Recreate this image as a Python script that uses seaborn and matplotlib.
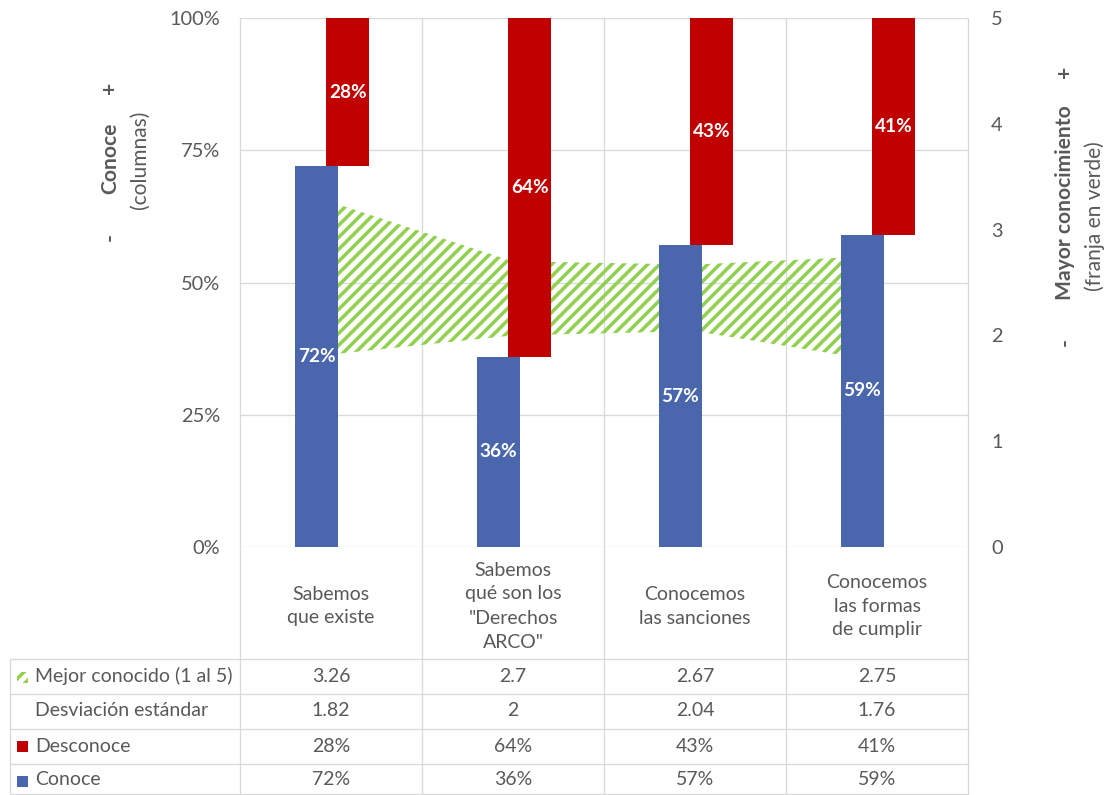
import numpy as np
import pandas as pd
import matplotlib
matplotlib.use('Agg')
import matplotlib.pyplot as plt
import matplotlib.transforms as mtransforms
from matplotlib.patches import Rectangle
from matplotlib.lines import Line2D
import seaborn as sns

# ---------------- data ----------------
categories = ['Sabemos\nque existe',
              'Sabemos\nqué son los\n"Derechos\nARCO"',
              'Conocemos\nlas sanciones',
              'Conocemos\nlas formas\nde cumplir']
conoce = [72, 36, 57, 59]
desconoce = [28, 64, 43, 41]
mejor_conocido = [3.26, 2.7, 2.67, 2.75]
desviacion = [1.82, 2, 2.04, 1.76]
row_labels = ['Mejor conocido (1 al 5)', 'Desviación estándar', 'Desconoce', 'Conoce']
left_ticks = [0, 25, 50, 75, 100]
right_ticks = [0, 1, 2, 3, 4, 5]

# ---------------- style ----------------
BLUE = '#4A66AC'
RED = '#C00000'
GREEN = '#92D050'
GRID = '#D9D9D9'
TXT = '#595959'

sns.set_theme(style='white')
plt.rcParams['font.family'] = ['Lato', 'DejaVu Sans']
plt.rcParams['hatch.linewidth'] = 3.5
plt.rcParams['hatch.color'] = GREEN

W, H = 1109, 795
DPI = 72
fig = plt.figure(figsize=(W / DPI, H / DPI), dpi=DPI)
fig.patch.set_facecolor('white')
L, R, T, B = 240, 968, 18, 547


def fx(px):
    return px / W


def fy(py):
    return 1 - py / H


ax = fig.add_axes([fx(L), fy(B), (R - L) / W, (B - T) / H])
ax2 = ax.twinx()

x = np.arange(len(categories))
BW = 0.236

sns.barplot(x=x - 0.08, y=conoce, native_scale=True, width=BW, color=BLUE,
            saturation=1, linewidth=0, errorbar=None, ax=ax, zorder=3)
sns.barplot(x=x + 0.093, y=desconoce, bottom=conoce, native_scale=True, width=BW,
            color=RED, saturation=1, linewidth=0, errorbar=None, ax=ax, zorder=3)

ax.bar_label(ax.containers[0], labels=[f'{v}%' for v in conoce], label_type='center',
             color='white', fontweight='bold', fontsize=19)
ax.bar_label(ax.containers[1], labels=[f'{v}%' for v in desconoce], label_type='center',
             color='white', fontweight='bold', fontsize=19)

# green band (right axis scale) drawn behind bars
ax2.set_ylim(0, 5)
trans_band = mtransforms.blended_transform_factory(ax.transData, ax2.transData)
ax.fill_between(x, desviacion, mejor_conocido, transform=trans_band,
                facecolor='none', edgecolor=GREEN, linewidth=0, hatch='//', zorder=2)

ax.set_xlim(-0.5, len(categories) - 0.5)
ax.set_ylim(0, 100)
ax2.set_ylim(0, 5)
ax.set_xticks([])
ax.set_xlabel('')
ax.set_yticks(left_ticks)
ax.set_yticklabels([f'{t}%' for t in left_ticks])
ax2.set_yticks(right_ticks)
ax2.set_yticklabels([str(t) for t in right_ticks])
ax.tick_params(axis='y', length=0, pad=20, labelsize=20, labelcolor=TXT)
ax2.tick_params(axis='y', length=0, pad=23, labelsize=20, labelcolor=TXT)
for a in (ax, ax2):
    for s in a.spines.values():
        s.set_visible(False)
ax.grid(False)
ax2.grid(False)
for t in left_ticks:
    ax.axhline(t, color=GRID, lw=1.3, zorder=1)

# vertical separators through plot and table
trans_tab = mtransforms.blended_transform_factory(ax.transData, fig.transFigure)
for b in np.arange(len(categories) + 1) - 0.5:
    ax.add_line(Line2D([b, b], [fy(T), fy(H)], transform=trans_tab, color=GRID,
                       lw=1.3, clip_on=False, zorder=1))

# table horizontal lines
for yy in [659, 694, 729, 764, 794]:
    fig.add_artist(Line2D([fx(10), fx(R)], [fy(yy), fy(yy)], color=GRID, lw=1.3))
fig.add_artist(Line2D([fx(10), fx(10)], [fy(659), fy(H)], color=GRID, lw=1.3))

# category labels
for i, c in enumerate(categories):
    ax.text(i, fy(606), c, transform=trans_tab, ha='center', va='center',
            fontsize=19.5, color=TXT, linespacing=1.5)

# table rows
row_y = [676, 711, 746.5, 779.5]
row_vals = [[f'{v:g}' for v in mejor_conocido],
            [f'{v:g}' for v in desviacion],
            [f'{v}%' for v in desconoce],
            [f'{v}%' for v in conoce]]
for ry, lab, vals in zip(row_y, row_labels, row_vals):
    fig.text(fx(35), fy(ry), lab, ha='left', va='center', fontsize=19.5, color=TXT)
    for i, v in enumerate(vals):
        ax.text(i, fy(ry), v, transform=trans_tab, ha='center', va='center',
                fontsize=19.5, color=TXT)

# legend keys
fig.add_artist(Rectangle((fx(17), fy(683)), 11 / W, 11 / H, transform=fig.transFigure,
                         facecolor='none', edgecolor=GREEN, linewidth=0, hatch='//'))
fig.add_artist(Rectangle((fx(17), fy(752)), 11 / W, 11 / H, transform=fig.transFigure,
                         facecolor=RED, edgecolor='none'))
fig.add_artist(Rectangle((fx(17), fy(787)), 11 / W, 11 / H, transform=fig.transFigure,
                         facecolor=BLUE, edgecolor='none'))

# axis titles
kw = dict(rotation=90, ha='center', va='center', color=TXT, fontsize=21)
fig.text(fx(110), fy(88), '+', fontweight='bold', **kw)
fig.text(fx(110), fy(158), 'Conoce', fontweight='bold', **kw)
fig.text(fx(110), fy(237), '-', fontweight='bold', **kw)
fig.text(fx(140), fy(160), '(columnas)', **kw)
fig.text(fx(1065), fy(72), '+', fontweight='bold', **kw)
fig.text(fx(1065), fy(203), 'Mayor conocimiento', fontweight='bold', **kw)
fig.text(fx(1065), fy(342), '-', fontweight='bold', **kw)
fig.text(fx(1095), fy(216), '(franja en verde)', **kw)

fig.savefig('out.png', dpi=DPI, facecolor='white')
